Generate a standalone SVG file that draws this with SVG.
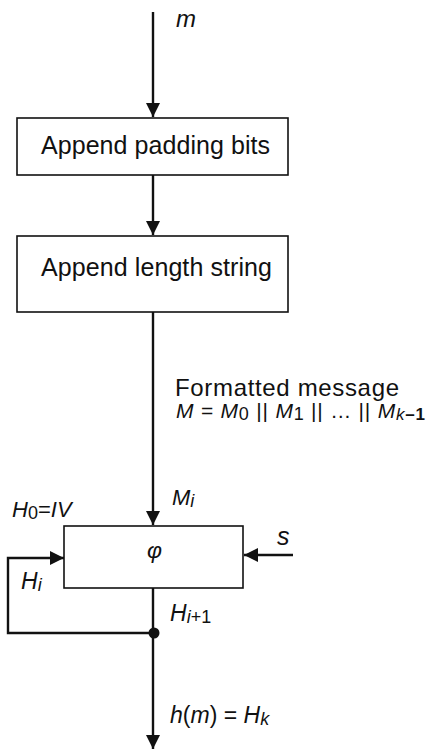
<svg xmlns="http://www.w3.org/2000/svg" width="426" height="749" viewBox="0 0 426 749">
<defs>
<style>
.box{fill:#fff;stroke:#111;stroke-width:1.6}
.ln{fill:none;stroke:#111;stroke-width:2.4}
.t{font-family:"Liberation Sans",Arial,sans-serif;fill:#111}
.i{font-style:italic}
</style>
<marker id="ah" markerUnits="userSpaceOnUse" markerWidth="14" markerHeight="14" viewBox="0 0 14 14" refX="14" refY="7" orient="auto">
<path d="M0,0 L14,7 L0,14 Z" fill="#111"/>
</marker>
</defs>
<rect width="426" height="749" fill="#fff"/>
<g id="connectors">
<line class="ln" x1="153" y1="12" x2="153" y2="117" marker-end="url(#ah)"/>
<line class="ln" x1="153" y1="175" x2="153" y2="235" marker-end="url(#ah)"/>
<line class="ln" x1="153" y1="312" x2="153" y2="525" marker-end="url(#ah)"/>
<line class="ln" x1="293" y1="555" x2="244" y2="555" stroke-width="3.2" marker-end="url(#ah)"/>
<path class="ln" d="M153,588 L153,633 L8,633 L8,558 L64,558" marker-end="url(#ah)"/>
<line class="ln" x1="153" y1="633" x2="153" y2="749" marker-end="url(#ah)"/>
<circle cx="154" cy="633" r="5.5" fill="#111"/>
</g>
<g id="n-padding">
<rect class="box" x="17" y="118" width="271" height="57"/>
<text class="t" x="41" y="154" font-size="25" textLength="229">Append padding bits</text>
</g>
<g id="n-length">
<rect class="box" x="17" y="236" width="271" height="76"/>
<text class="t" x="41" y="276" font-size="25" textLength="231">Append length string</text>
</g>
<g id="n-phi">
<rect class="box" x="64" y="526" width="179" height="62"/>
<text class="t i" x="147" y="558" font-size="23">φ</text>
</g>
<g id="labels" class="t">
<text class="i" x="176" y="27" font-size="24">m</text>
<text x="175" y="396" font-size="24" textLength="224">Formatted message</text>
<text x="176" y="418" font-size="21" textLength="249"><tspan class="i">M</tspan> = <tspan class="i">M</tspan><tspan font-size="18" dy="2">0</tspan><tspan dy="-2"> || </tspan><tspan class="i">M</tspan><tspan font-size="18" dy="2">1</tspan><tspan dy="-2">  || … || </tspan><tspan class="i">M</tspan><tspan font-size="17" dy="2"><tspan class="i">k</tspan><tspan font-weight="bold">–1</tspan></tspan></text>
<text x="172" y="505" font-size="22"><tspan class="i">M</tspan><tspan class="i" font-size="18" dy="2">i</tspan></text>
<text x="12" y="517" font-size="22"><tspan class="i">H</tspan><tspan font-size="18" dy="2">0</tspan><tspan dy="-2">=</tspan><tspan class="i">IV</tspan></text>
<text class="i" x="277" y="545" font-size="25">s</text>
<text x="21" y="589" font-size="23"><tspan class="i">H</tspan><tspan class="i" font-size="18" dy="2">i</tspan></text>
<text x="170" y="621" font-size="23"><tspan class="i">H</tspan><tspan font-size="18" dy="2"><tspan class="i">i</tspan>+1</tspan></text>
<text x="170" y="723" font-size="23"><tspan class="i">h</tspan>(<tspan class="i">m</tspan>) = <tspan class="i">H</tspan><tspan class="i" font-size="18" dy="2">k</tspan></text>
</g>
</svg>
